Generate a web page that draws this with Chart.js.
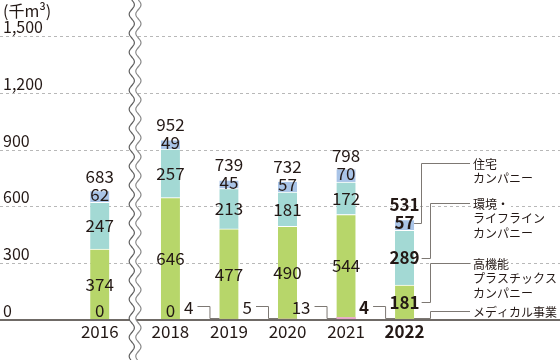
<!DOCTYPE html>
<html>
<head>
<meta charset="utf-8">
<script src="https://cdn.jsdelivr.net/npm/chart.js@4.4.1/dist/chart.umd.min.js"></script>
<style>
html,body{margin:0;padding:0;background:#fff;}
#wrap{width:560px;height:360px;}
</style>
</head>
<body>
<div id="wrap"><canvas id="c" width="560" height="360"></canvas></div>
<script>
// ---- data ----
const categories = ['2016', '2018', '2019', '2020', '2021', '2022'];
const medical     = [0, 0, 4, 5, 13, 4];
const plastics    = [374, 646, 477, 490, 544, 181];
const environment = [247, 257, 213, 181, 172, 289];
const housing     = [62, 49, 45, 57, 70, 57];
const totals      = [683, 952, 739, 732, 798, 531];
const yTickValues = [0, 300, 600, 900, 1200, 1500];
const yTickLabels = ['0', '300', '600', '900', '1,200', '1,500'];
const unitLabel = '(千m³)';
const seriesNames = [
  ['メディカル事業'],
  ['高機能', 'プラスチックス', 'カンパニー'],
  ['環境・', 'ライフライン', 'カンパニー'],
  ['住宅', 'カンパニー']
];
const highlightCategory = '2022';

// ---- style / layout ----
const FONT = '"Noto Sans CJK JP", "Noto Sans", sans-serif';
const TEXT = '#231815';
const colors = ['#e8a3c9', '#b7d66a', '#a3d9d4', '#a9c4e7'];
const LINE = '#7d7873';
const breakShift = 0.207;   // axis break: first category sits closer
const xPos = categories.map((c, i) => i === 0 ? -breakShift : i);
const hiIdx = categories.indexOf(highlightCategory);

const seriesValues = [medical, plastics, environment, housing];

function font(size, bold) { return (bold ? 'bold ' : '') + size + 'px ' + FONT; }

const drawPlugin = {
  id: 'custom',
  beforeDatasetsDraw(chart) {
    const ctx = chart.ctx, ys = chart.scales.y;
    ctx.save();
    ctx.strokeStyle = '#b8b8b8';
    ctx.lineWidth = 1;
    ctx.setLineDash([3, 3]);
    yTickValues.forEach(v => {
      if (v === 0) return;
      const py = Math.round(ys.getPixelForValue(v)) + 0.5;
      ctx.beginPath(); ctx.moveTo(0, py); ctx.lineTo(560, py); ctx.stroke();
    });
    ctx.setLineDash([]);
    ctx.fillStyle = TEXT;
    ctx.font = font(16);
    ctx.textAlign = 'left';
    ctx.textBaseline = 'alphabetic';
    yTickValues.forEach((v, i) => {
      const py = ys.getPixelForValue(v);
      ctx.fillText(yTickLabels[i], 3, py - 3);
    });
    ctx.font = font(16);
    ctx.fillText(unitLabel, 3, 17);
    ctx.restore();
  },
  afterDatasetsDraw(chart) {
    const ctx = chart.ctx, xs = chart.scales.x, ys = chart.scales.y;
    const base = ys.getPixelForValue(0);
    ctx.save();
    // baseline
    ctx.strokeStyle = '#6f6a66';
    ctx.lineWidth = 2;
    ctx.beginPath(); ctx.moveTo(0, base); ctx.lineTo(560, base); ctx.stroke();

    const metas = [0, 1, 2, 3].map(k => chart.getDatasetMeta(k));
    ctx.fillStyle = TEXT;
    ctx.textAlign = 'center';
    ctx.textBaseline = 'middle';
    const labelPos = [];
    categories.forEach((c, i) => {
      const bold = i === hiIdx;
      const elM = metas[0].data[i], elP = metas[1].data[i], elE = metas[2].data[i], elH = metas[3].data[i];
      const cx = elP.x;
      const pos = {};
      ctx.font = font(17, bold);
      pos.p = (elP.y + elP.base) / 2;
      ctx.fillText(String(plastics[i]), cx, pos.p);
      pos.e = (elE.y + elE.base) / 2;
      ctx.fillText(String(environment[i]), cx, pos.e);
      pos.h = (elH.y + elH.base) / 2 - 2;
      ctx.fillText(String(housing[i]), cx, pos.h);
      ctx.fillText(String(totals[i]), cx, pos.h - 18);
      const left = elM.x - elM.width / 2;
      if (medical[i] === 0) {
        ctx.fillText('0', cx, base - 9);
      } else {
        const ly = base - 14;
        const sx = left - 22, ex = left - 10;
        ctx.strokeStyle = LINE; ctx.lineWidth = 1;
        ctx.beginPath();
        ctx.moveTo(sx, ly + 0.5); ctx.lineTo(ex + 0.5, ly + 0.5);
        ctx.lineTo(ex + 0.5, base - 1.5); ctx.lineTo(left, base - 1.5);
        ctx.stroke();
        ctx.textAlign = 'right';
        ctx.fillText(String(medical[i]), sx - 4, ly + 2);
        ctx.textAlign = 'center';
      }
      labelPos.push(pos);
    });

    // right-hand series labels with leaders (from highlighted bar)
    const i = hiIdx;
    const elH = metas[3].data[i];
    const right = elH.x + elH.width / 2;
    const pos = labelPos[i];
    ctx.font = font(17, true);
    const wE = ctx.measureText(String(environment[i])).width;
    const wP = ctx.measureText(String(plastics[i])).width;
    const textX = 473, endX = 470;
    const nearX = right + 7, farX = right + 16;
    const legendRows = [
      {k: 3, sx: right, sy: pos.h, vx: nearX, ty: 163},
      {k: 2, sx: elH.x + wE / 2 + 2, sy: pos.e, vx: farX, ty: 203},
      {k: 1, sx: elH.x + wP / 2 + 2, sy: pos.p, vx: farX, ty: 263},
      {k: 0, sx: right, sy: base - 2, vx: farX, ty: 311}
    ];
    ctx.font = font(12);
    ctx.textAlign = 'left';
    legendRows.forEach(r => {
      const lines = seriesNames[r.k];
      ctx.fillStyle = '#fff';
      lines.forEach((t, j) => {
        const w = ctx.measureText(t).width;
        ctx.fillRect(textX - 2, r.ty + j * 14.5 - 7, w + 4, 14);
      });
      ctx.strokeStyle = LINE; ctx.lineWidth = 1;
      ctx.beginPath();
      ctx.moveTo(r.sx, Math.round(r.sy) + 0.5);
      ctx.lineTo(Math.round(r.vx) + 0.5, Math.round(r.sy) + 0.5);
      ctx.lineTo(Math.round(r.vx) + 0.5, r.ty + 0.5);
      ctx.lineTo(endX, r.ty + 0.5);
      ctx.stroke();
      ctx.fillStyle = TEXT;
      lines.forEach((t, j) => ctx.fillText(t, textX, r.ty + j * 14.5 + 1));
    });

    // axis break symbol
    const bx = (xs.getPixelForValue(xPos[0]) + xs.getPixelForValue(xPos[1])) / 2;
    const amp = 2.6, period = 19, gap = 3.3;
    const wave = (y) => amp * Math.sin(2 * Math.PI * y / period);
    ctx.fillStyle = '#fff';
    ctx.beginPath();
    for (let y = 0; y <= 360; y++) ctx.lineTo(bx - gap + wave(y), y);
    for (let y = 360; y >= 0; y--) ctx.lineTo(bx + gap + wave(y), y);
    ctx.closePath(); ctx.fill();
    [[-gap, '#5f5f5f'], [gap, '#8a8a8a']].forEach(([off, col]) => {
      ctx.strokeStyle = col; ctx.lineWidth = 1.2;
      ctx.beginPath();
      for (let y = 0; y <= 360; y++) ctx.lineTo(bx + off + wave(y), y);
      ctx.stroke();
    });
    ctx.restore();
  }
};

const datasets = seriesValues.map((arr, k) => ({
  label: seriesNames[k].join(''),
  data: arr.map((v, i) => ({x: xPos[i], y: v})),
  backgroundColor: colors[k],
  borderColor: '#ffffff',
  borderWidth: k === 0 ? 0 : {top: 1, left: 0, right: 0, bottom: 0},
  borderSkipped: false,
  barThickness: 19,
  stack: 's'
}));

new Chart(document.getElementById('c'), {
  type: 'bar',
  data: {datasets},
  options: {
    responsive: false,
    animation: false,
    devicePixelRatio: 1,
    layout: {padding: {top: 36, left: 0, right: 0, bottom: 0}},
    plugins: {legend: {display: false}, tooltip: {enabled: false}},
    scales: {
      x: {
        type: 'linear', stacked: true,
        min: 1 - 148.5 / 70.25, max: 1 - 148.5 / 70.25 + 560 / 70.25,
        grid: {display: false}, border: {display: false},
        afterBuildTicks: axis => { axis.ticks = xPos.map(v => ({value: v})); },
        afterFit: s => { s.height = 40; },
        ticks: {
          autoSkip: false, maxRotation: 0, minRotation: 0, padding: -7,
          color: TEXT,
          font: c => ({family: FONT, size: 17, weight: c.index === hiIdx ? 'bold' : 'normal'}),
          callback: (v, i) => categories[i]
        }
      },
      y: {display: false, stacked: true, min: 0, max: 1500}
    }
  },
  plugins: [drawPlugin]
});
</script>
</body>
</html>
